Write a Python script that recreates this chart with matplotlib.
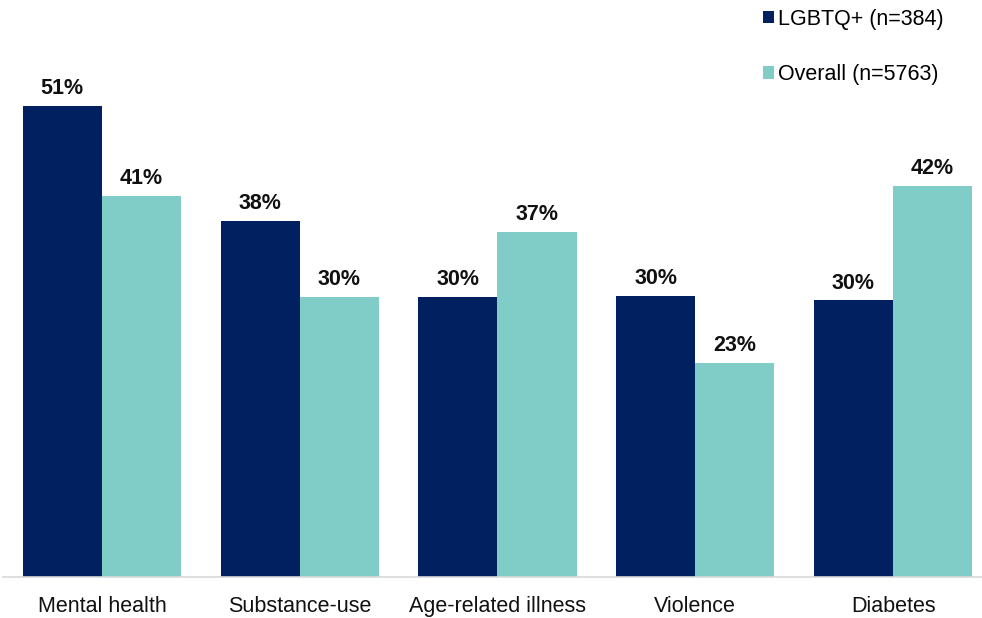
import matplotlib
matplotlib.use("Agg")
import matplotlib.pyplot as plt
from matplotlib.patches import Patch
import numpy as np

plt.rcParams['font.family'] = ['Liberation Sans', 'DejaVu Sans']

categories = ["Mental health", "Substance-use", "Age-related illness", "Violence", "Diabetes"]
lgbtq = [50.6, 38.2, 30.1, 30.2, 29.7]
overall = [40.9, 30.1, 37.1, 23.0, 42.0]
series_names = ["LGBTQ+ (n=384)", "Overall (n=5763)"]
colors = ["#00205F", "#7FCDC6"]

FS = 15.5

fig = plt.figure(figsize=(9.82, 6.18), dpi=100)
W, H = 982, 618
ax_left, ax_right = 3, 982
ax_bottom, ax_top = 577, 18
ax = fig.add_axes([ax_left / W, 1 - ax_bottom / H,
                   (ax_right - ax_left) / W, (ax_bottom - ax_top) / H])

x = np.arange(len(categories))
bw = 0.4
group_px = 197.8
ax.set_xlim(-0.5, -0.5 + (ax_right - ax_left) / group_px)
ax.set_ylim(0, (ax_bottom - ax_top) / 9.31)

for vals, off, col in [(lgbtq, -bw / 2, colors[0]), (overall, bw / 2, colors[1])]:
    bars = ax.bar(x + off, vals, width=bw, color=col, linewidth=0)
    for b, v in zip(bars, vals):
        ax.annotate(f"{v:.0f}%", (b.get_x() + b.get_width() / 2, v),
                    xytext=(0, 5), textcoords="offset points",
                    ha="center", va="bottom", fontsize=FS, fontweight="bold",
                    color="#111111")

ax.set_xticks(x)
ax.set_xticklabels(categories, fontsize=FS, color="#111111")
ax.tick_params(axis="x", length=0, pad=13.5)
ax.set_yticks([])
for s in ["top", "right", "left"]:
    ax.spines[s].set_visible(False)
ax.spines["bottom"].set_color("#D9D9D9")
ax.spines["bottom"].set_linewidth(1.2)

handles = [Patch(facecolor=c, edgecolor="none") for c in colors]
fig.legend(handles, series_names, loc="upper left",
           bbox_to_anchor=(754 / W, 1 - 0 / H), frameon=False,
           fontsize=FS, handlelength=0.55, handleheight=0.55,
           handletextpad=0.15, labelspacing=1.6, borderaxespad=0)

fig.savefig("out.png", dpi=100, facecolor="white")
